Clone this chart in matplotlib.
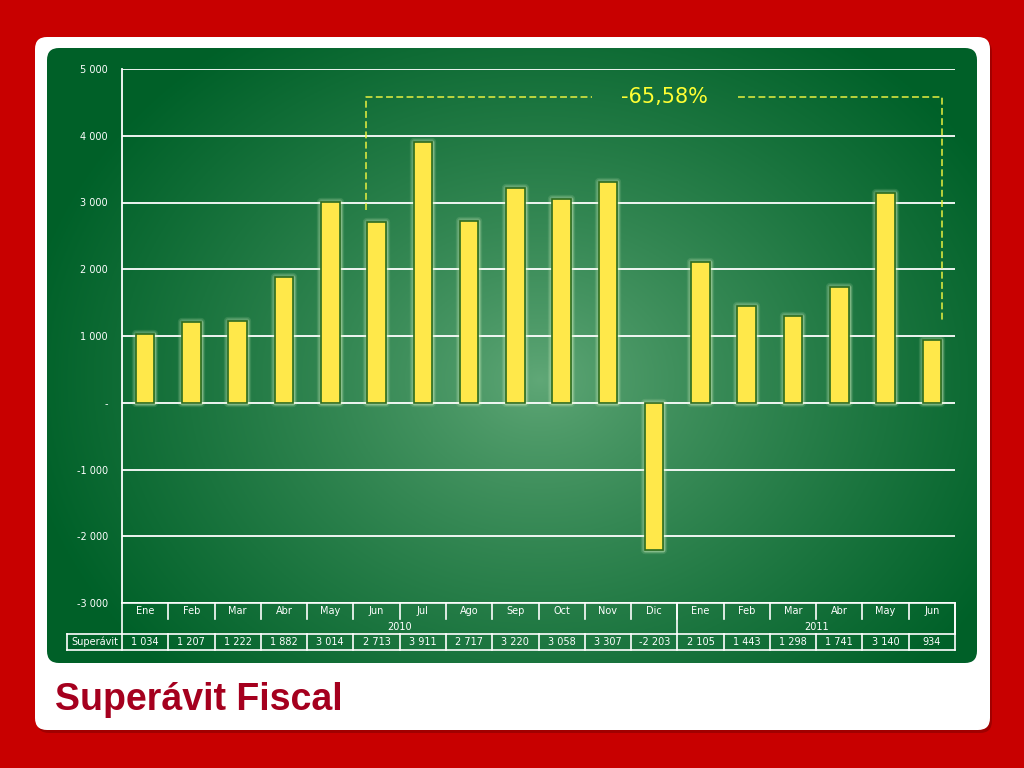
import matplotlib.pyplot as plt
import numpy as np
from matplotlib.patches import FancyBboxPatch

# data
months = ['Ene', 'Feb', 'Mar', 'Abr', 'May', 'Jun', 'Jul', 'Ago', 'Sep', 'Oct', 'Nov', 'Dic',
          'Ene', 'Feb', 'Mar', 'Abr', 'May', 'Jun']
years = ['2010', '2011']
year_counts = [12, 6]
superavit = [1034, 1207, 1222, 1882, 3014, 2713, 3911, 2717, 3220, 3058, 3307, -2203,
             2105, 1443, 1298, 1741, 3140, 934]
y_ticks = [-3000, -2000, -1000, 0, 1000, 2000, 3000, 4000, 5000]
change_label = '-65,58%'

plt.rcParams['font.family'] = ['DejaVu Sans']
FS = 7

W, H = 1024, 768
fig = plt.figure(figsize=(W / 100, H / 100), dpi=100)
fig.patch.set_facecolor('#C80000')


def fx(px):
    return px / W


def fy(py):
    return 1 - py / H


def fmt(v):
    if v == 0:
        return '-'
    s = f'{abs(v):,}'.replace(',', ' ')
    return ('-' if v < 0 else '') + s


# background axes in pixel coords (y down)
bg = fig.add_axes([0, 0, 1, 1], zorder=-1)
bg.set_axis_off()
bg.add_patch(FancyBboxPatch((37, 40), 955, 693, boxstyle='round,pad=0,rounding_size=12',
                            fc='#7a0000', ec='none', alpha=0.5))
bg.add_patch(FancyBboxPatch((35, 37), 955, 693, boxstyle='round,pad=0,rounding_size=12',
                            fc='white', ec='none'))

# green panel with radial gradient
gx0, gx1, gy0, gy1 = 47, 977, 48, 663
xx, yy = np.meshgrid(np.linspace(gx0, gx1, 400), np.linspace(gy0, gy1, 300))
r = np.sqrt(((xx - 540) / 520) ** 2 + ((yy - 380) / 420) ** 2)
t = np.clip(r, 0, 1) ** 0.8
c_in = np.array([0.38, 0.66, 0.47])
c_out = np.array([0.0, 0.38, 0.16])
img = c_in[None, None, :] * (1 - t[..., None]) + c_out[None, None, :] * t[..., None]
im = bg.imshow(img, extent=(gx0, gx1, gy1, gy0), aspect='auto', zorder=2)
clip = FancyBboxPatch((gx0, gy0), gx1 - gx0, gy1 - gy0,
                      boxstyle='round,pad=0,rounding_size=12', transform=bg.transData,
                      fc='none', ec='none')
bg.add_patch(clip)
im.set_clip_path(clip)
bg.set_xlim(0, W)
bg.set_ylim(H, 0)

# main plot
px0, px1, py0, py1 = 122, 955, 69, 603
ax = fig.add_axes([fx(px0), fy(py1), fx(px1 - px0), (py1 - py0) / H])
ax.set_facecolor('none')
n = len(months)
x = np.arange(n)
for v in y_ticks:
    ax.axhline(v, color='white', lw=1.3, zorder=1)
# soft glow around the bars
for lw, a in [(6, 0.12), (4, 0.18), (2.5, 0.3)]:
    ax.bar(x, superavit, width=0.40, color='none', edgecolor='#e0f8c8', lw=lw, alpha=a,
           joinstyle='round', zorder=2)
ax.bar(x, superavit, width=0.40, color='#FFE84A', edgecolor='#2a6a1e', lw=1.2, zorder=3)
ax.set_xlim(-0.5, n - 0.5)
ax.set_ylim(-3000, 5000)
ax.set_yticks(y_ticks)
ax.set_yticklabels([fmt(v) for v in y_ticks], color='white', fontsize=FS)
ax.tick_params(axis='y', length=0, pad=10)
ax.set_xticks([])
for s in ['top', 'right', 'bottom']:
    ax.spines[s].set_visible(False)
ax.spines['left'].set_color('white')
ax.spines['left'].set_linewidth(1.3)

# dashed bracket
yel = '#E8F040'
xl, xr, ytop = 4.77, 17.22, 4585
ax.plot([xl, xl, 9.66], [2890, ytop, ytop], color=yel, lw=1.1, dashes=(4.5, 2.2), zorder=4)
ax.plot([12.81, xr, xr], [ytop, ytop, 1240], color=yel, lw=1.1, dashes=(4.5, 2.2), zorder=4)
ax.text(11.23, ytop, change_label, color='#FFFF33', fontsize=15, ha='center', va='center', zorder=5)

# data table
tx0, ty0, ty1 = 67, 603, 650
tab = fig.add_axes([fx(tx0), fy(ty1), fx(px1 - tx0), (ty1 - ty0) / H])
tab.set_axis_off()
tab.set_xlim(tx0, px1)
tab.set_ylim(ty1, ty0)
cw = (px1 - px0) / n
lc = dict(color='white', lw=1.2, clip_on=False)
tab.plot([px0, px1], [603, 603], **lc)
tab.plot([tx0, px1], [634, 634], **lc)
tab.plot([tx0, px1], [650, 650], **lc)
tab.plot([tx0, tx0], [634, 650], **lc)
tab.plot([px1, px1], [603, 650], **lc)
tab.plot([px0, px0], [603, 650], **lc)
for i in range(n):
    xc = px0 + (i + 0.5) * cw
    tab.text(xc, 611, months[i], color='white', fontsize=FS, ha='center', va='center')
    tab.text(xc, 642, fmt(superavit[i]), color='white', fontsize=FS, ha='center', va='center')
    if i > 0:
        xe = px0 + i * cw
        tab.plot([xe, xe], [603, 619], **lc)
        tab.plot([xe, xe], [634, 650], **lc)
start = 0
for yr, cnt in zip(years, year_counts):
    xs = px0 + start * cw
    xe = px0 + (start + cnt) * cw
    tab.text((xs + xe) / 2, 626.5, yr, color='white', fontsize=FS, ha='center', va='center')
    tab.plot([xe, xe], [603, 634], **lc)
    start += cnt
tab.text((tx0 + px0) / 2, 642, 'Superávit', color='white', fontsize=FS, ha='center', va='center')

# title
fig.text(fx(55), fy(700), 'Superávit Fiscal', color='#A5001E', fontsize=27,
         fontfamily='Liberation Sans', fontweight='bold', ha='left', va='center')

fig.savefig('out.png', dpi=100, facecolor=fig.get_facecolor())
